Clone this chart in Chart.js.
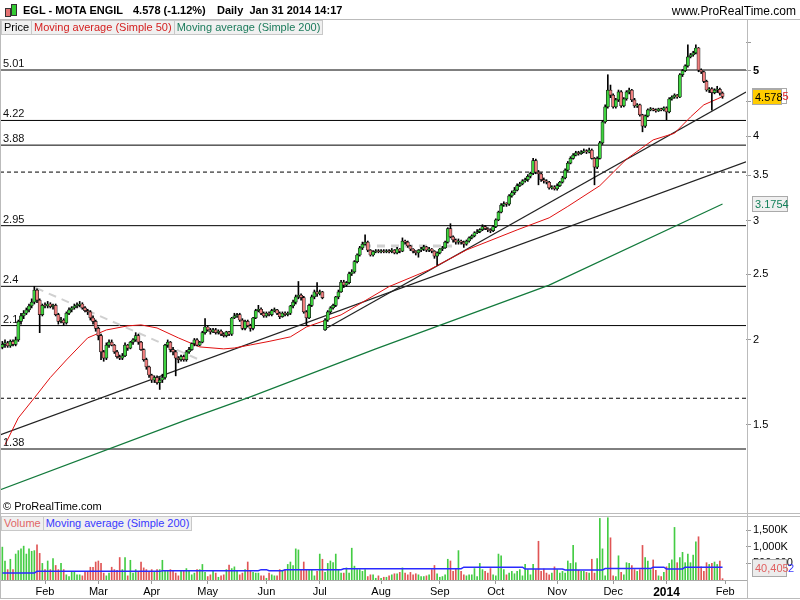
<!DOCTYPE html>
<html>
<head>
<meta charset="utf-8">
<script src="https://cdn.jsdelivr.net/npm/chart.js@4.4.1/dist/chart.umd.min.js"></script>
<style>
  body { margin: 0; width: 800px; height: 600px; background: #fff; position: relative; overflow: hidden;
         font-family: "Liberation Sans", Arial, sans-serif; font-size: 11px; color: #000; }
  canvas { position: absolute; left: 0; }
  #price { top: 20px; }
  #vol { top: 513px; }
  .ln { position: absolute; background: #bbb; z-index: 5; }
  .txt { position: absolute; white-space: nowrap; z-index: 6; }
  .bold { font-weight: bold; }
  .leg { position: absolute; z-index: 6; display: flex; }
  .leg span { background: #f0f0f0; border: 1px solid #c8c8c8; padding: 0 2px; height: 13px; line-height: 13px; margin-right: -1px; }
  .ico { position: absolute; z-index: 6; border: 1px solid #333; }
</style>
</head>
<body>
<div class="ico" style="left:5px;top:8px;width:4px;height:7px;background:#e57373"></div>
<div class="ico" style="left:11px;top:4px;width:4px;height:10px;background:#33cc33"></div>
<div class="txt bold" style="left:23px;top:4px">EGL - MOTA ENGIL</div>
<div class="txt bold" style="left:133px;top:4px">4.578 (-1.12%)</div>
<div class="txt bold" style="left:217px;top:4px">Daily&nbsp; Jan 31 2014 14:17</div>
<div class="txt" style="right:4px;top:4px;font-size:12px">www.ProRealTime.com</div>

<div class="ln" style="left:0;top:19px;width:800px;height:1px"></div>
<div class="ln" style="left:0;top:19px;width:1px;height:580px"></div>
<div class="ln" style="left:747px;top:19px;width:1px;height:580px"></div>
<div class="ln" style="left:0;top:513px;width:800px;height:1px"></div>
<div class="ln" style="left:0;top:516px;width:800px;height:1px"></div>
<div class="ln" style="left:0;top:598px;width:800px;height:1px"></div>

<div class="leg" style="left:1px;top:20px">
  <span>Price</span>
  <span style="color:#d42020">Moving average (Simple 50)</span>
  <span style="color:#1b7b5b">Moving average (Simple 200)</span>
</div>
<div class="txt" style="left:3px;top:500px">© ProRealTime.com</div>
<div class="leg" style="left:1px;top:516px">
  <span style="color:#e06666">Volume</span>
  <span style="color:#3838ff">Moving average (Simple 200)</span>
</div>

<canvas id="price" width="800" height="493"></canvas>
<canvas id="vol" width="800" height="87"></canvas>

<script>
// daily candles, Jan 10 2013 .. Jan 31 2014
const opens = [
  1.95,1.97,1.98,1.96,1.99,1.97,2.00,2.13,2.17,2.19,
  2.215,2.245,2.275,2.37,2.29,2.18,2.25,2.245,2.26,2.24,
  2.25,2.18,2.13,2.14,2.12,2.19,2.215,2.23,2.245,2.25,
  2.26,2.23,2.21,2.20,2.155,2.13,2.08,2.03,1.92,1.88,
  1.965,1.985,1.965,1.92,1.89,1.88,1.895,1.965,1.945,1.985,
  2.00,2.03,1.985,1.935,1.87,1.825,1.775,1.745,1.76,1.73,
  1.745,1.76,1.965,1.985,1.935,1.92,1.88,1.87,1.89,1.87,
  1.92,1.935,1.975,2.00,1.965,1.985,2.05,2.09,2.07,2.055,
  2.07,2.05,2.06,2.04,2.03,2.055,2.04,2.155,2.17,2.18,
  2.14,2.08,2.13,2.10,2.08,2.155,2.21,2.22,2.19,2.17,
  2.19,2.18,2.21,2.215,2.19,2.165,2.19,2.18,2.19,2.245,
  2.275,2.315,2.33,2.31,2.20,2.155,2.25,2.315,2.355,2.34,
  2.355,2.07,2.14,2.20,2.23,2.25,2.315,2.355,2.435,2.41,
  2.43,2.505,2.52,2.61,2.67,2.735,2.77,2.79,2.715,2.67,
  2.70,2.705,2.70,2.705,2.70,2.705,2.70,2.715,2.69,2.725,
  2.705,2.80,2.79,2.755,2.725,2.705,2.69,2.715,2.725,2.745,
  2.715,2.725,2.705,2.66,2.69,2.725,2.735,2.79,2.92,2.84,
  2.81,2.79,2.80,2.79,2.77,2.80,2.83,2.85,2.88,2.89,
  2.91,2.94,2.92,2.91,2.90,2.94,3.01,3.09,3.165,3.18,
  3.175,3.265,3.30,3.33,3.38,3.40,3.435,3.45,3.49,3.525,
  3.68,3.54,3.52,3.45,3.435,3.42,3.355,3.365,3.345,3.38,
  3.42,3.47,3.565,3.65,3.71,3.75,3.78,3.77,3.79,3.805,
  3.79,3.815,3.71,3.60,3.71,3.91,4.20,4.42,4.68,4.60,
  4.42,4.525,4.65,4.435,4.54,4.65,4.68,4.525,4.435,4.45,
  4.30,4.14,4.285,4.375,4.39,4.375,4.36,4.39,4.375,4.405,
  4.345,4.54,4.57,4.60,4.57,4.93,5.00,5.08,5.24,5.275,
  5.31,5.40,5.01,4.98,4.82,4.68,4.70,4.64,4.68,4.69,
  4.63
];
const highs = [
  1.99,2.00,1.99,2.00,2.00,2.02,2.14,2.19,2.21,2.23,
  2.26,2.30,2.40,2.38,2.30,2.26,2.27,2.28,2.27,2.26,
  2.26,2.19,2.16,2.15,2.20,2.23,2.24,2.26,2.27,2.28,
  2.27,2.24,2.22,2.21,2.17,2.14,2.09,2.04,1.93,1.98,
  2.00,2.00,1.97,1.93,1.90,1.91,1.98,1.97,1.99,2.01,
  2.05,2.04,1.99,1.94,1.88,1.83,1.78,1.77,1.77,1.76,
  1.78,1.97,2.00,1.99,1.95,1.93,1.89,1.90,1.90,1.93,
  1.95,1.98,2.01,2.01,1.99,2.06,2.15,2.10,2.08,2.08,
  2.08,2.07,2.07,2.05,2.06,2.06,2.16,2.19,2.19,2.19,
  2.15,2.14,2.14,2.11,2.16,2.22,2.25,2.23,2.20,2.20,
  2.20,2.22,2.23,2.22,2.20,2.20,2.20,2.20,2.25,2.29,
  2.33,2.44,2.34,2.32,2.21,2.26,2.33,2.37,2.43,2.37,
  2.36,2.15,2.21,2.24,2.26,2.32,2.37,2.45,2.45,2.44,
  2.52,2.54,2.62,2.68,2.75,2.79,2.86,2.80,2.72,2.71,
  2.72,2.72,2.72,2.72,2.72,2.72,2.73,2.72,2.74,2.73,
  2.83,2.81,2.80,2.76,2.73,2.71,2.72,2.74,2.76,2.75,
  2.74,2.73,2.71,2.70,2.73,2.75,2.80,2.93,2.97,2.85,
  2.82,2.82,2.81,2.80,2.81,2.84,2.86,2.89,2.91,2.92,
  2.96,2.95,2.93,2.92,2.95,3.02,3.10,3.18,3.20,3.19,
  3.28,3.32,3.36,3.40,3.42,3.45,3.47,3.51,3.54,3.71,
  3.70,3.56,3.53,3.47,3.45,3.43,3.38,3.38,3.40,3.43,
  3.49,3.58,3.67,3.73,3.77,3.80,3.80,3.81,3.83,3.82,
  3.84,3.83,3.72,3.73,3.93,4.22,4.45,4.93,4.76,4.62,
  4.55,4.68,4.67,4.56,4.67,4.71,4.69,4.55,4.47,4.46,
  4.31,4.30,4.39,4.41,4.40,4.39,4.40,4.40,4.42,4.42,
  4.56,4.59,4.62,4.61,4.95,5.02,5.10,5.46,5.30,5.34,
  5.46,5.41,5.03,4.99,4.84,4.72,4.72,4.70,4.74,4.71,
  4.65
];
const lows = [
  1.94,1.95,1.95,1.95,1.96,1.96,1.99,2.11,2.15,2.18,
  2.20,2.23,2.26,2.27,2.05,2.17,2.23,2.23,2.23,2.22,
  2.17,2.11,2.12,2.10,2.11,2.18,2.20,2.22,2.23,2.24,
  2.22,2.20,2.18,2.14,2.11,2.06,2.00,1.87,1.86,1.87,
  1.95,1.96,1.91,1.88,1.87,1.87,1.89,1.93,1.94,1.97,
  1.99,1.97,1.93,1.86,1.81,1.76,1.73,1.73,1.72,1.69,
  1.73,1.75,1.95,1.92,1.90,1.77,1.85,1.86,1.86,1.86,
  1.91,1.93,1.96,1.96,1.96,1.98,2.04,2.06,2.04,2.05,
  2.04,2.04,2.03,2.02,2.02,2.03,2.03,2.15,2.16,2.13,
  2.07,2.07,2.09,2.06,2.07,2.15,2.20,2.18,2.16,2.16,
  2.17,2.17,2.20,2.18,2.15,2.16,2.17,2.17,2.18,2.23,
  2.26,2.30,2.29,2.19,2.105,2.15,2.24,2.30,2.32,2.33,
  2.30,2.065,2.13,2.19,2.22,2.24,2.30,2.35,2.39,2.40,
  2.42,2.49,2.51,2.60,2.66,2.72,2.76,2.70,2.66,2.66,
  2.69,2.69,2.69,2.69,2.69,2.69,2.69,2.68,2.68,2.69,
  2.70,2.77,2.74,2.71,2.69,2.67,2.65,2.70,2.71,2.70,
  2.70,2.69,2.64,2.58,2.68,2.71,2.73,2.78,2.83,2.79,
  2.77,2.77,2.77,2.74,2.76,2.79,2.82,2.84,2.87,2.88,
  2.90,2.91,2.89,2.88,2.89,2.93,3.00,3.08,3.15,3.15,
  3.16,3.25,3.28,3.32,3.37,3.39,3.42,3.43,3.47,3.51,
  3.52,3.39,3.43,3.41,3.40,3.34,3.34,3.33,3.33,3.37,
  3.41,3.46,3.55,3.64,3.70,3.74,3.75,3.76,3.78,3.77,
  3.78,3.70,3.39,3.58,3.70,3.89,4.18,4.40,4.56,4.40,
  4.40,4.50,4.41,4.42,4.52,4.62,4.50,4.41,4.41,4.28,
  4.06,4.12,4.27,4.36,4.36,4.34,4.35,4.36,4.36,4.23,
  4.33,4.52,4.55,4.55,4.56,4.90,4.98,5.06,5.22,5.25,
  5.29,4.98,4.95,4.80,4.66,4.64,4.37,4.62,4.64,4.60,
  4.55
];
const closes = [
  1.97,1.98,1.96,1.99,1.97,2.00,2.13,2.17,2.19,2.215,
  2.245,2.275,2.37,2.29,2.18,2.25,2.245,2.26,2.24,2.25,
  2.18,2.13,2.14,2.12,2.19,2.215,2.23,2.245,2.25,2.26,
  2.23,2.21,2.20,2.155,2.13,2.08,2.03,1.92,1.88,1.965,
  1.985,1.965,1.92,1.89,1.88,1.895,1.965,1.945,1.985,2.00,
  2.03,1.985,1.935,1.87,1.825,1.775,1.745,1.76,1.73,1.745,
  1.76,1.965,1.985,1.935,1.92,1.88,1.87,1.89,1.87,1.92,
  1.935,1.975,2.00,1.965,1.985,2.05,2.09,2.07,2.055,2.07,
  2.05,2.06,2.04,2.03,2.055,2.04,2.155,2.17,2.18,2.14,
  2.08,2.13,2.10,2.08,2.155,2.21,2.22,2.19,2.17,2.19,
  2.18,2.21,2.215,2.19,2.165,2.19,2.18,2.19,2.245,2.275,
  2.315,2.33,2.31,2.20,2.155,2.25,2.315,2.355,2.34,2.355,
  2.31,2.14,2.20,2.23,2.25,2.315,2.355,2.435,2.41,2.43,
  2.505,2.52,2.61,2.67,2.735,2.77,2.79,2.715,2.67,2.70,
  2.705,2.70,2.705,2.70,2.705,2.70,2.715,2.69,2.725,2.705,
  2.80,2.79,2.755,2.725,2.705,2.69,2.715,2.725,2.745,2.715,
  2.725,2.705,2.66,2.69,2.725,2.735,2.79,2.92,2.84,2.81,
  2.79,2.80,2.79,2.77,2.80,2.83,2.85,2.88,2.89,2.91,
  2.94,2.92,2.91,2.90,2.94,3.01,3.09,3.165,3.18,3.175,
  3.265,3.30,3.33,3.38,3.40,3.435,3.45,3.49,3.525,3.68,
  3.54,3.52,3.45,3.435,3.42,3.355,3.365,3.345,3.38,3.42,
  3.47,3.565,3.65,3.71,3.75,3.78,3.77,3.79,3.805,3.79,
  3.815,3.71,3.60,3.71,3.91,4.20,4.42,4.68,4.60,4.42,
  4.525,4.65,4.435,4.54,4.65,4.68,4.525,4.435,4.45,4.30,
  4.14,4.285,4.375,4.39,4.375,4.36,4.39,4.375,4.405,4.345,
  4.54,4.57,4.60,4.57,4.93,5.00,5.08,5.24,5.275,5.31,
  5.40,5.01,4.98,4.82,4.68,4.70,4.64,4.68,4.69,4.63,
  4.578
];
// volume in thousands of shares
const volumes = [
  990,573,313,625,313,781,885,938,1020,781,
  938,865,885,1063,802,500,313,573,313,646,
  438,313,500,313,156,104,260,260,156,156,
  125,229,260,385,385,542,573,500,208,125,
  208,385,313,292,677,313,677,125,594,208,
  313,260,542,365,313,229,313,260,313,313,
  594,260,260,313,260,208,125,260,260,344,
  260,156,208,313,313,469,229,104,156,260,
  208,83,125,156,313,448,344,396,260,156,
  208,313,542,260,229,208,208,125,125,52,
  208,156,125,125,313,260,313,469,542,438,
  938,906,313,542,313,313,313,125,260,781,
  625,229,500,573,521,781,313,208,208,365,
  208,958,417,313,313,260,313,104,156,156,
  52,125,52,83,83,125,156,188,188,230,
  365,208,156,229,156,188,156,104,104,125,
  156,313,438,188,83,104,156,625,573,260,
  344,885,260,156,125,156,156,344,104,500,
  313,260,208,344,156,125,781,729,313,156,
  208,260,188,260,313,125,469,313,156,469,
  313,1167,260,333,208,156,208,396,313,208,
  260,208,573,500,1042,521,292,260,260,229,
  208,625,208,646,1855,938,125,1875,1271,125,
  104,729,229,156,521,500,438,313,260,313,
  1042,677,573,313,604,292,125,104,229,396,
  500,604,1584,521,677,833,521,781,521,750,
  1146,1302,396,260,521,469,500,542,469,573,
  40.405
];

// moving averages (bar index, value)
const ma50Days = [1, 6, 12, 18, 24, 32, 39, 47, 52, 58, 66, 74, 83, 87, 93, 100, 108, 114, 127, 145, 160, 174, 193, 205, 212, 224, 234, 244, 252, 258, 263, 268, 270];
const ma50 = [1.40, 1.534, 1.642, 1.76, 1.868, 2.014, 2.069, 2.098, 2.105, 2.083, 2.014, 1.953, 1.94, 1.946, 1.966, 1.99, 2.021, 2.09, 2.178, 2.398, 2.538, 2.716, 2.908, 3.03, 3.15, 3.38, 3.70, 3.95, 4.04, 4.27, 4.45, 4.54, 4.5785];
const ma200Days = [-1, 69, 93, 140, 205, 270];
const ma200 = [1.20, 1.524, 1.648, 1.94, 2.41, 3.1754];
const volMaDays = [0, 12, 13, 59, 60, 96, 97, 99, 100, 105, 106, 127, 128, 172, 173, 195, 196, 210, 211, 225, 226, 243, 244, 248, 249, 255, 256, 270];
const volMa = [208, 208, 260, 260, 281, 281, 312, 312, 281, 281, 310, 310, 340, 340, 385, 385, 333, 333, 302, 302, 344, 344, 385, 385, 333, 333, 385, 385];

// drawn support / resistance levels and trend lines
const levels = [5.01, 4.22, 3.88, 2.95, 2.4, 2.1, 1.38];
const dashedLevels = [3.54, 1.64];
const trendA = [[-0.875, 1.448], [278.8, 3.666]];
const trendB = [[121, 2.076], [278.8, 4.649]];
const grayDiag = [[12.6, 2.387], [74.1, 1.868]];
const grayFlat = [[135.2, 2.754], [168.6, 2.754]];

const priceTicks = [1.5, 2, 2.5, 3, 3.5, 4, 4.5, 5, 5.5];
const volTicks = [500, 1000, 1500];
const volTickLabels = ['500,000', '1,000K', '1,500K'];
const monthLabels = ['Feb', 'Mar', 'Apr', 'May', 'Jun', 'Jul', 'Aug', 'Sep', 'Oct', 'Nov', 'Dec', '2014', 'Feb'];
const holidays = ['2013-03-29', '2013-04-01', '2013-05-01', '2013-12-25', '2013-12-26', '2014-01-01'];

// trading days -> first day of each month gets a tick
const days = [];
for (let d = new Date(Date.UTC(2013, 0, 10)); days.length < closes.length; d.setUTCDate(d.getUTCDate() + 1)) {
  const wd = d.getUTCDay();
  const iso = d.toISOString().slice(0, 10);
  if (wd === 0 || wd === 6 || holidays.includes(iso)) continue;
  days.push(iso);
}
const monthTicks = [];
days.forEach((d, i) => { if (i > 0 && d.slice(5, 7) !== days[i - 1].slice(5, 7)) monthTicks.push(i); });
monthTicks.push(days.length);

const xMin = -0.875, xMax = 278.8;
const FONT = '"Liberation Sans", Arial, sans-serif';
const GREEN = '#3fd23f', RED = '#f08080';
const idx = closes.map((_, i) => i);
const isUp = i => closes[i] >= opens[i];
const pts = (xs, ys) => xs.map((x, i) => ({ x, y: ys[i] }));
const seg = arr => arr.map(p => ({ x: p[0], y: p[1] }));
const noPad = s => { s.paddingTop = 0; s.paddingBottom = 0; s.paddingLeft = 0; s.paddingRight = 0; };

function lineSet(data, color, width, dash, order) {
  return { type: 'line', data, borderColor: color, borderWidth: width, borderDash: dash || [],
           pointRadius: 0, tension: 0, fill: false, order };
}

const priceLabels = {
  id: 'priceLabels',
  afterDraw(chart) {
    const { ctx } = chart;
    const y = chart.scales.y;
    ctx.save();
    ctx.font = '11px ' + FONT;
    ctx.fillStyle = '#111';
    ctx.textBaseline = 'bottom';
    levels.forEach(v => ctx.fillText(String(v), 3, Math.round(y.getPixelForValue(v)) - 1));

    const box = (val, text, bg, fg, w) => {
      const cy = Math.round(y.getPixelForValue(val));
      ctx.fillStyle = bg;
      ctx.fillRect(753, cy - 7, w, 14);
      ctx.strokeStyle = '#aaa';
      ctx.strokeRect(752.5, cy - 7.5, w, 15);
      ctx.fillStyle = fg;
      ctx.textBaseline = 'middle';
      ctx.fillText(text, 755, cy + 1);
    };
    box(ma50[ma50.length - 1], '4.5785', '#fff', '#e02020', 34);
    box(closes[closes.length - 1], '4.578', '#ffcc00', '#000', 29);
    box(ma200[ma200.length - 1], '3.1754', '#f0f0f0', '#13805a', 35);
    ctx.restore();
  }
};

new Chart(document.getElementById('price'), {
  type: 'bar',
  data: {
    datasets: [
      { type: 'bar', data: idx.map(i => ({ x: i, y: [lows[i], highs[i]] })), backgroundColor: '#000',
        barThickness: 1, grouped: false, order: 3 },
      { type: 'bar', data: idx.map(i => ({ x: i, y: [opens[i], closes[i]] })),
        backgroundColor: c => isUp(c.dataIndex) ? GREEN : RED, borderColor: '#111', borderWidth: 0.7,
        borderSkipped: false, barThickness: 3.2, minBarLength: 1, grouped: false, order: 2 },
      lineSet(pts(ma50Days, ma50), '#e01010', 1, null, 5),
      lineSet(pts(ma200Days, ma200), '#137a3c', 1.2, null, 6),
      lineSet(seg(trendA), '#222', 1.2, null, 7),
      lineSet(seg(trendB), '#222', 1.2, null, 7),
      lineSet(seg(grayDiag), '#d0d0d0', 2, [8, 6], 8),
      lineSet(seg(grayFlat), '#d0d0d0', 3, [8, 6], 8),
      ...levels.map(v => lineSet([{ x: xMin, y: v }, { x: xMax, y: v }], '#000', 1, null, 9)),
      ...dashedLevels.map(v => lineSet([{ x: xMin, y: v }, { x: xMax, y: v }], '#000', 1, [4, 3], 9))
    ]
  },
  options: {
    responsive: false,
    animation: false,
    layout: { padding: 0 },
    plugins: { legend: { display: false }, tooltip: { enabled: false } },
    scales: {
      x: { type: 'linear', min: xMin, max: xMax, display: false, offset: false, bounds: 'data',
           grid: { offset: false } },
      y: {
        type: 'logarithmic', position: 'right', min: 1.11, max: 5.939, bounds: 'data',
        afterFit: s => { s.width = 54; noPad(s); },
        afterBuildTicks: s => { s.ticks = priceTicks.map(v => ({ value: v })); },
        ticks: {
          callback: v => (v === 5.5 ? '' : String(v)),
          font: c => ({ family: FONT, size: 11, weight: c.tick && c.tick.value === 5 ? 'bold' : 'normal' }),
          color: '#000', padding: 2
        },
        grid: { drawOnChartArea: false, tickLength: 5, color: '#999' },
        border: { display: false }
      }
    }
  },
  plugins: [priceLabels]
});

const volLabels = {
  id: 'volLabels',
  afterDraw(chart) {
    const { ctx, chartArea } = chart;
    const y = chart.scales.y;
    const last = volumes[volumes.length - 1];
    const cy = Math.min(Math.round(y.getPixelForValue(last)), chartArea.bottom - 12);
    ctx.save();
    ctx.font = '11px ' + FONT;
    ctx.fillStyle = '#3838ff';
    ctx.textBaseline = 'middle';
    ctx.fillText('2', 788, cy + 1);
    ctx.fillStyle = '#ececec';
    ctx.fillRect(753, cy - 8, 34, 16);
    ctx.strokeStyle = '#aaa';
    ctx.strokeRect(752.5, cy - 8.5, 34, 17);
    ctx.fillStyle = '#e06060';
    ctx.fillText('40,405', 755, cy + 1);
    ctx.restore();
  }
};

new Chart(document.getElementById('vol'), {
  type: 'bar',
  data: {
    datasets: [
      { type: 'bar', data: idx.map(i => ({ x: i, y: volumes[i] })),
        backgroundColor: c => isUp(c.dataIndex) ? '#44cc44' : '#e05555',
        barThickness: 1, grouped: false, order: 2 },
      lineSet(pts(volMaDays, volMa), '#2a2aff', 1.5, null, 1)
    ]
  },
  options: {
    responsive: false,
    animation: false,
    layout: { padding: 0 },
    plugins: { legend: { display: false }, tooltip: { enabled: false } },
    scales: {
      x: {
        type: 'linear', min: xMin, max: xMax, offset: false, bounds: 'data', position: 'bottom',
        afterFit: s => { s.height = 20; noPad(s); },
        afterBuildTicks: s => { s.ticks = monthTicks.map(v => ({ value: v })); },
        ticks: {
          autoSkip: false, maxRotation: 0, padding: 1, color: '#000',
          callback: v => monthLabels[monthTicks.indexOf(v)],
          font: c => ({ family: FONT, size: c.tick && c.tick.label === '2014' ? 12 : 11,
                        weight: c.tick && c.tick.label === '2014' ? 'bold' : 'normal' })
        },
        grid: { drawOnChartArea: false, tickLength: 4, color: '#999', offset: false },
        border: { display: true, color: '#aaa' }
      },
      y: {
        position: 'right', min: 0, max: 2018, bounds: 'data',
        afterFit: s => { s.width = 54; noPad(s); },
        afterBuildTicks: s => { s.ticks = volTicks.map(v => ({ value: v })); },
        ticks: { callback: v => volTickLabels[volTicks.indexOf(v)], font: { family: FONT, size: 11 },
                 color: '#000', padding: 2 },
        grid: { drawOnChartArea: false, tickLength: 5, color: '#999' },
        border: { display: false }
      }
    }
  },
  plugins: [volLabels]
});
</script>
</body>
</html>
